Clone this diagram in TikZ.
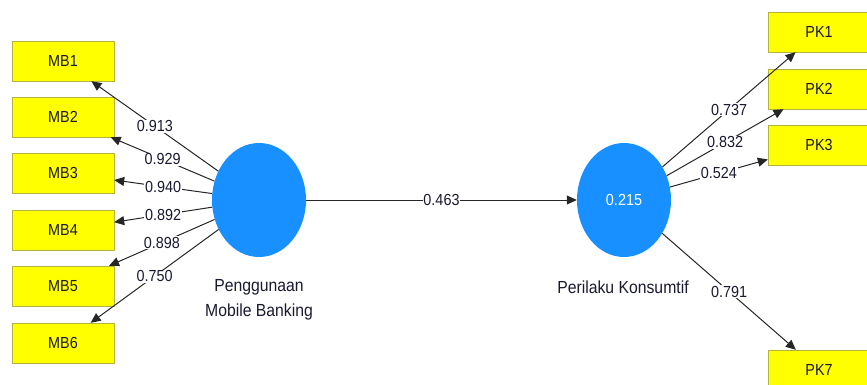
\documentclass[tikz,border=0pt]{standalone}
\usepackage{fontspec}
\setmainfont[FakeStretch=0.9]{Liberation Sans}
\usetikzlibrary{arrows.meta,shapes.geometric}
\definecolor{boxyellow}{RGB}{255,255,0}
\definecolor{boxedge}{RGB}{180,180,60}
\definecolor{latblue}{RGB}{24,144,255}
\definecolor{txt}{RGB}{25,25,50}
\begin{document}
\begin{tikzpicture}[x=1pt,y=-1pt,
  indbox/.style={draw=boxedge,fill=boxyellow,minimum width=102pt,minimum height=40pt,inner sep=0pt,text=txt,font=\fontsize{16}{18}\selectfont},
  latent/.style={ellipse,fill=latblue,draw=none,minimum width=94pt,minimum height=114pt,inner sep=0pt,text=white,font=\fontsize{16}{18}\selectfont},
  lname/.style={text=txt,font=\fontsize{17.5}{25}\selectfont,align=center},
  wlab/.style={fill=white,inner sep=0.8pt,text=txt,font=\fontsize{16}{18}\selectfont},
  conn/.style={draw=black!85,line width=1pt,-{Triangle[length=10pt,width=9pt]}}]
\useasboundingbox (0,0) rectangle (867,385);
% indicator boxes
\node[indbox] (MB1) at (63,61) {MB1};
\node[indbox] (MB2) at (63,117) {MB2};
\node[indbox] (MB3) at (63,173) {MB3};
\node[indbox] (MB4) at (63,230) {MB4};
\node[indbox] (MB5) at (63,286) {MB5};
\node[indbox] (MB6) at (63,343) {MB6};
\node[indbox] (PK1) at (819,32) {PK1};
\node[indbox] (PK2) at (819,89) {PK2};
\node[indbox] (PK3) at (819,145) {PK3};
\node[indbox] (PK7) at (819,370) {PK7};
% latent variables
\node[latent] (PMB) at (259,200) {};
\node[latent] (PKo) at (624,200) {0.215};
\node[lname] (PMBn) at (259,300) {Penggunaan\\Mobile Banking};
\node[lname] (PKon) at (623,287) {Perilaku Konsumtif};
% connectors
\draw[conn] (PMB) -- node[wlab] {0.913} (MB1);
\draw[conn] (PMB) -- node[wlab] {0.929} (MB2);
\draw[conn] (PMB) -- node[wlab] {0.940} (MB3);
\draw[conn] (PMB) -- node[wlab] {0.892} (MB4);
\draw[conn] (PMB) -- node[wlab] {0.898} (MB5);
\draw[conn] (PMB) -- node[wlab] {0.750} (MB6);
\draw[conn] (PMB) -- node[wlab] {0.463} (PKo);
\draw[conn] (PKo) -- node[wlab] {0.737} (PK1);
\draw[conn] (PKo) -- node[wlab] {0.832} (PK2);
\draw[conn] (PKo) -- node[wlab] {0.524} (PK3);
\draw[conn] (PKo) -- node[wlab] {0.791} (PK7);
\end{tikzpicture}
\end{document}
